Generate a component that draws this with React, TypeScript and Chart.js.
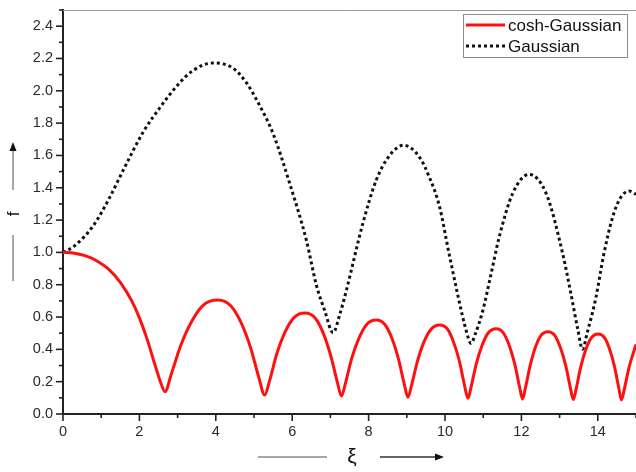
import React, { useEffect, useRef } from "react";
import { Chart, registerables } from "chart.js";

Chart.register(...registerables);

// ---- Data ----
const seriesNames = ["cosh-Gaussian", "Gaussian"];
const xTitle = "ξ";
const yTitle = "f";

const coshX = [
  0, 0.3, 0.6, 0.9, 1.2, 1.5, 1.8, 2.0, 2.2, 2.4, 2.55, 2.67,
  2.84, 3.08, 3.36, 3.66, 4.05,
  4.39, 4.665, 4.91, 5.13, 5.28,
  5.41, 5.595, 5.805, 6.04, 6.33,
  6.6, 6.81, 7.0, 7.175, 7.29,
  7.4, 7.56, 7.745, 7.945, 8.2,
  8.43, 8.615, 8.78, 8.93, 9.03,
  9.13, 9.28, 9.445, 9.63, 9.86,
  10.07, 10.23, 10.38, 10.51, 10.6,
  10.69, 10.82, 10.97, 11.13, 11.34,
  11.53, 11.685, 11.825, 11.95, 12.03,
  12.11, 12.23, 12.36, 12.505, 12.69,
  12.88, 13.025, 13.16, 13.28, 13.36,
  13.44, 13.555, 13.685, 13.83, 14.01,
  14.18, 14.315, 14.44, 14.55, 14.62,
  14.7, 14.82, 14.92, 15.0,
];
const coshY = [
  1.0, 0.995, 0.978, 0.945, 0.895, 0.815, 0.7, 0.595, 0.465, 0.31, 0.2, 0.138,
  0.251, 0.422, 0.569, 0.671, 0.705,
  0.67, 0.564, 0.411, 0.223, 0.117,
  0.208, 0.371, 0.503, 0.595, 0.625,
  0.594, 0.502, 0.368, 0.204, 0.111,
  0.196, 0.346, 0.468, 0.553, 0.581,
  0.552, 0.466, 0.342, 0.189, 0.103,
  0.183, 0.327, 0.443, 0.523, 0.55,
  0.523, 0.441, 0.324, 0.179, 0.097,
  0.174, 0.312, 0.424, 0.501, 0.527,
  0.501, 0.423, 0.31, 0.17, 0.092,
  0.167, 0.301, 0.409, 0.484, 0.509,
  0.484, 0.408, 0.3, 0.165, 0.09,
  0.163, 0.293, 0.398, 0.471, 0.495,
  0.471, 0.397, 0.291, 0.16, 0.087,
  0.16, 0.29, 0.37, 0.43,
];

const gaussX = [
  0, 0.3, 0.8, 1.2, 1.6, 2.1, 2.55, 3.0, 3.4, 3.93,
  4.45, 4.8, 5.1, 5.5, 5.93, 6.37, 6.63, 6.85, 7.07,
  7.25, 7.42, 7.85, 8.2, 8.55, 8.92,
  9.33, 9.6, 9.85, 10.1, 10.35, 10.55, 10.68,
  10.8, 10.99, 11.2, 11.42, 11.77, 12.2,
  12.65, 13.08, 13.3, 13.48, 13.6,
  13.72, 13.95, 14.15, 14.39, 14.6, 14.82, 15.0,
];
const gaussY = [
  1.0, 1.04, 1.168, 1.33, 1.52, 1.745, 1.9, 2.035, 2.125, 2.172,
  2.14, 2.05, 1.93, 1.735, 1.43, 1.076, 0.8, 0.64, 0.503,
  0.62, 0.767, 1.18, 1.447, 1.6, 1.663,
  1.59, 1.46, 1.29, 1.0, 0.72, 0.52, 0.437,
  0.5, 0.64, 0.86, 1.096, 1.364, 1.483,
  1.364, 0.993, 0.74, 0.52, 0.4,
  0.5, 0.72, 0.98, 1.22, 1.34, 1.38, 1.36,
];

const xTicks = [0, 2, 4, 6, 8, 10, 12, 14];
const yTicks = [0.0, 0.2, 0.4, 0.6, 0.8, 1.0, 1.2, 1.4, 1.6, 1.8, 2.0, 2.2, 2.4];
const xRange = [0, 15];
const yRange = [0, 2.5];
const xMinorStep = 1;
const yMinorStep = 0.1;

const FONT = "'Liberation Sans', Arial, Helvetica, sans-serif";

function arrowHead(ctx: CanvasRenderingContext2D, x: number, y: number, dir: "up" | "right") {
  ctx.beginPath();
  if (dir === "up") {
    ctx.moveTo(x, y);
    ctx.lineTo(x - 3.5, y + 9);
    ctx.lineTo(x + 3.5, y + 9);
  } else {
    ctx.moveTo(x, y);
    ctx.lineTo(x - 9, y - 3.5);
    ctx.lineTo(x - 9, y + 3.5);
  }
  ctx.closePath();
  ctx.fill();
}

const decorPlugin = {
  id: "decor",
  afterDraw(chart: any) {
    const ctx: CanvasRenderingContext2D = chart.ctx;
    const { left, right, top, bottom } = chart.chartArea;
    const xs = chart.scales.x;
    const ys = chart.scales.y;
    ctx.save();

    // top frame line
    ctx.strokeStyle = "#9a9a9a";
    ctx.lineWidth = 1;
    ctx.beginPath();
    ctx.moveTo(left, top + 0.5);
    ctx.lineTo(right, top + 0.5);
    ctx.stroke();

    // ticks (major + minor), outward
    ctx.strokeStyle = "#222";
    ctx.lineWidth = 1.6;
    const nx = Math.round((xRange[1] - xRange[0]) / xMinorStep);
    for (let i = 0; i <= nx; i++) {
      const v = xRange[0] + i * xMinorStep;
      const px = xs.getPixelForValue(v);
      const len = i % 2 === 0 ? 7 : 4;
      ctx.beginPath();
      ctx.moveTo(px, bottom);
      ctx.lineTo(px, bottom + len);
      ctx.stroke();
    }
    const ny = Math.round((yRange[1] - yRange[0]) / yMinorStep);
    for (let i = 0; i <= ny; i++) {
      const v = yRange[0] + i * yMinorStep;
      const py = ys.getPixelForValue(v);
      const len = i % 2 === 0 ? 7 : 4;
      ctx.beginPath();
      ctx.moveTo(left, py);
      ctx.lineTo(left - len, py);
      ctx.stroke();
    }

    // legend
    const lx = 463, ly = 14, lw = 164, lh = 43;
    ctx.strokeStyle = "#8c8c8c";
    ctx.lineWidth = 1;
    ctx.strokeRect(lx + 0.5, ly + 0.5, lw, lh);
    const ds = chart.data.datasets;
    const rows = [25, 46];
    ds.forEach((d: any, i: number) => {
      ctx.save();
      ctx.strokeStyle = d.borderColor;
      ctx.lineWidth = d.borderWidth;
      ctx.setLineDash(d.borderDash || []);
      ctx.beginPath();
      ctx.moveTo(466, rows[i]);
      ctx.lineTo(505, rows[i]);
      ctx.stroke();
      ctx.restore();
      ctx.fillStyle = "#111";
      ctx.font = `17px ${FONT}`;
      ctx.textBaseline = "middle";
      ctx.textAlign = "left";
      ctx.fillText(seriesNames[i], 508, rows[i] + 1);
    });

    // y title with arrow + line
    ctx.strokeStyle = "#8a8a8a";
    ctx.lineWidth = 1.5;
    ctx.beginPath();
    ctx.moveTo(13, 190);
    ctx.lineTo(13, 148);
    ctx.stroke();
    ctx.fillStyle = "#111";
    arrowHead(ctx, 13, 142, "up");
    ctx.beginPath();
    ctx.moveTo(13, 235);
    ctx.lineTo(13, 281);
    ctx.stroke();
    ctx.save();
    ctx.translate(14, 214);
    ctx.rotate(-Math.PI / 2);
    ctx.font = `17px ${FONT}`;
    ctx.textAlign = "center";
    ctx.textBaseline = "middle";
    ctx.fillStyle = "#111";
    ctx.fillText(yTitle, 0, 0);
    ctx.restore();

    // x title with line + arrow
    ctx.strokeStyle = "#8a8a8a";
    ctx.lineWidth = 1.5;
    ctx.beginPath();
    ctx.moveTo(258, 457);
    ctx.lineTo(327, 457);
    ctx.stroke();
    ctx.strokeStyle = "#333";
    ctx.beginPath();
    ctx.moveTo(380, 457);
    ctx.lineTo(437, 457);
    ctx.stroke();
    ctx.fillStyle = "#111";
    arrowHead(ctx, 444, 457, "right");
    ctx.font = `21px ${FONT}`;
    ctx.textAlign = "center";
    ctx.textBaseline = "middle";
    ctx.fillText(xTitle, 352, 457);

    ctx.restore();
  },
};

export default function App() {
  const ref = useRef<HTMLCanvasElement | null>(null);

  useEffect(() => {
    if (!ref.current) return;
    const chart = new Chart(ref.current, {
      type: "line",
      data: {
        datasets: [
          {
            label: seriesNames[0],
            data: coshX.map((x, i) => ({ x, y: coshY[i] })),
            borderColor: "#ff1010",
            borderWidth: 3,
            pointRadius: 0,
            cubicInterpolationMode: "monotone",
            fill: false,
          },
          {
            label: seriesNames[1],
            data: gaussX.map((x, i) => ({ x, y: gaussY[i] })),
            borderColor: "#111111",
            borderWidth: 3,
            borderDash: [3, 3],
            pointRadius: 0,
            cubicInterpolationMode: "monotone",
            fill: false,
          },
        ],
      },
      options: {
        responsive: false,
        maintainAspectRatio: false,
        animation: false,
        layout: { padding: { top: 10, left: 0, right: 0, bottom: 0 } },
        plugins: {
          legend: { display: false },
          tooltip: { enabled: false },
          title: { display: false },
        },
        scales: {
          x: {
            type: "linear",
            min: xRange[0],
            max: xRange[1],
            afterFit: (s: any) => {
              s.height = 58;
              s.paddingLeft = 0;
              s.paddingRight = 0;
              s.paddingTop = 0;
              s.paddingBottom = 0;
            },
            afterBuildTicks: (s: any) => {
              s.ticks = xTicks.map((v) => ({ value: v }));
            },
            ticks: {
              autoSkip: false,
              maxRotation: 0,
              padding: 9,
              color: "#2a2a2a",
              font: { family: FONT, size: 14.5 },
              callback: (v: any) => String(v),
            },
            grid: { display: true, color: "rgba(0,0,0,0)", drawTicks: false },
            border: { display: true, color: "#222", width: 2 },
          },
          y: {
            type: "linear",
            min: yRange[0],
            max: yRange[1],
            afterFit: (s: any) => {
              s.width = 63;
              s.paddingLeft = 0;
              s.paddingRight = 0;
              s.paddingTop = 0;
              s.paddingBottom = 0;
            },
            afterBuildTicks: (s: any) => {
              s.ticks = yTicks.map((v) => ({ value: v }));
            },
            ticks: {
              autoSkip: false,
              padding: 10,
              color: "#2a2a2a",
              font: { family: FONT, size: 14.5 },
              callback: (v: any) => Number(v).toFixed(1),
            },
            grid: { display: true, color: "rgba(0,0,0,0)", drawTicks: false },
            border: { display: true, color: "#222", width: 2 },
          },
        },
      },
      plugins: [decorPlugin],
    } as any);
    return () => chart.destroy();
  }, []);

  return (
    <div style={{ position: "absolute", left: 0, top: 0, width: 636, height: 472, background: "#fff" }}>
      <canvas ref={ref} width={636} height={472} style={{ display: "block", width: 636, height: 472 }} />
    </div>
  );
}
